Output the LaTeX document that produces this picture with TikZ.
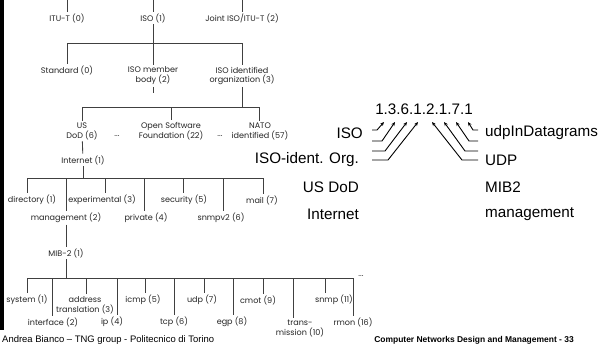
\documentclass[tikz,border=0pt]{standalone}
\usepackage{fontspec}
\setmainfont{Liberation Sans}
\newfontfamily\treefont{Poppins}
\usetikzlibrary{arrows.meta}
\definecolor{treegray}{HTML}{262626}
\definecolor{linegray}{HTML}{404040}
\begin{document}
\begin{tikzpicture}[x=1bp,y=-1bp,
  tl/.style={font=\treefont\fontsize{8.1}{10}\selectfont, text=treegray, inner xsep=0pt, inner ysep=1.6bp, align=center},
  tline/.style={draw=linegray, line width=0.85bp},
  big/.style={font=\fontsize{15.3}{18}\selectfont, inner sep=0pt},
  arr/.style={draw=black, line width=0.9bp, -{Stealth[length=4bp,width=3.4bp]}},
  foot/.style={font=\fontsize{9.5}{11}\selectfont, inner sep=0pt},
]
\useasboundingbox (0,0) rectangle (605,351);
\fill[white] (0,0) rectangle (605,351);
\fill[black] (0,0) rectangle (4,330);

% ---------- level 1
\node[tl] (itu) at (67,18) {ITU-T (0)};
\node[tl] (iso) at (153,18) {ISO (1)};
\node[tl] (joint) at (242,18) {Joint ISO/ITU-T (2)};
\coordinate (t0) at (67,0);
\coordinate (t1) at (153,0);
\coordinate (t2) at (242,0);
\draw[tline] (t0) -- (itu);
\draw[tline] (t1) -- (iso);
\draw[tline] (t2) -- (joint);

% ---------- level 2
\node[tl] (std) at (67,70) {Standard (0)};
\node[tl] (mem) at (153,76) {ISO member\\body (2)};
\node[tl] (org) at (242,76) {ISO identified\\organization (3)};
\coordinate (b1) at (153,43);
\draw[tline] (iso) -- (b1);
\draw[tline] (b1) -| (std);
\draw[tline] (b1) -- (mem);
\draw[tline] (b1) -| (org);
\draw[tline] (mem.south) -- ++(0,6);

% ---------- level 3
\node[tl] (usdod) at (82,131) {US\\DoD (6)};
\node[tl] (osf) at (171,131) {Open Software\\Foundation (22)};
\node[tl] (nato) at (260,131) {NATO\\identified (57)};
\node[tl] (dots1) at (117,136) {...};
\node[tl] (dots2) at (220,136) {...};
\coordinate (b2) at (242,107);
\draw[tline] (org) -- (b2);
\draw[tline] (b2) -| (usdod);
\draw[tline] (b2) -| (osf);
\draw[tline] (b2) -| ([xshift=-1bp]nato.north);

% ---------- internet
\node[tl] (inet) at (83,160) {Internet (1)};
\draw[tline] (usdod) -- (inet);
\coordinate (b3) at (83,178);
\draw[tline] (inet) -- (b3);

\node[tl] (dir) at (32,200) {directory (1)};
\node[tl] (mgmt) at (66,218) {management (2)};
\node[tl] (exp) at (102,200) {experimental (3)};
\node[tl] (priv) at (146,218) {private (4)};
\node[tl] (sec) at (184,200) {security (5)};
\node[tl] (snmpv) at (221,218) {snmpv2 (6)};
\node[tl] (mail) at (262,200) {mail (7)};
\draw[tline] (b3) -| ([xshift=-5bp]dir.north);
\draw[tline] (b3) -| (mgmt);
\draw[tline] (b3) -| ([xshift=3bp]exp.north);
\draw[tline] (b3) -| ([xshift=-2bp]priv.north);
\draw[tline] (b3) -| ([xshift=-1bp]sec.north);
\draw[tline] (b3) -| ([xshift=2bp]snmpv.north);
\draw[tline] (b3) -| ([xshift=1bp]mail.north);

% ---------- MIB-2
\node[tl] (mib) at (66,253) {MIB-2 (1)};
\draw[tline] (mgmt) -- (mib);
\coordinate (b4) at (66,278);
\draw[tline] (mib) -- (b4);

\node[tl] (sys) at (27,300) {system (1)};
\node[tl] (intf) at (53,322) {interface (2)};
\node[tl] (addr) at (85,305) {address\\translation (3)};
\node[tl] (ip) at (112,322) {ip (4)};
\node[tl] (icmp) at (143,300) {icmp (5)};
\node[tl] (tcp) at (174,322) {tcp (6)};
\node[tl] (udp) at (202,300) {udp (7)};
\node[tl] (egp) at (232,322) {egp (8)};
\node[tl] (cmot) at (258,300) {cmot (9)};
\node[tl] (trans) at (300,328) {trans-\\mission (10)};
\node[tl] (snmp) at (334,300) {snmp (11)};
\node[tl] (rmon) at (353,322) {rmon (16)};
\node[tl] (dots3) at (361,276) {...};
\coordinate (b4e) at (353,278);

\draw[tline] (b4) -| (sys);
\draw[tline] (b4) -| ([xshift=-1bp]intf.north);
\draw[tline] (b4) -| ([xshift=1bp]addr.north);
\draw[tline] (b4) -| ([xshift=5bp]ip.north);
\draw[tline] (b4) -| ([xshift=2bp]icmp.north);
\draw[tline] (b4) -| (tcp);
\draw[tline] (b4) -| ([xshift=2bp]udp.north);
\draw[tline] (b4) -| ([xshift=1bp]egp.north);
\draw[tline] (b4) -| ([xshift=5bp]cmot.north);
\draw[tline] (b4) -| ([xshift=-7bp]trans.north);
\draw[tline] (b4) -| ([xshift=-9bp]snmp.north);
\draw[tline] (b4) -- (b4e) -- (rmon);

% ---------- OID explanation
\node[big] (oid) at (424,109) {1.3.6.1.2.1.7.1};
\node[big, anchor=east] (lISO) at (363,133) {ISO};
\node[big, anchor=east] (lORG) at (359,160) {ISO-ident. Org.};
\node[big, anchor=east] (lDOD) at (359,187) {US DoD};
\node[big, anchor=east] (lINET) at (359,214) {Internet};
\node[big, anchor=west] (rUDPIN) at (485,133) {udpInDatagrams};
\node[big, anchor=west] (rUDP) at (485,160) {UDP};
\node[big, anchor=west] (rMIB) at (485,187) {MIB2};
\node[big, anchor=west] (rMGMT) at (485,214) {management};

\coordinate (d1) at (384,122);
\coordinate (d2) at (395,122);
\coordinate (d3) at (407,122);
\coordinate (d4) at (418,122);
\coordinate (d5) at (432,122);
\coordinate (d6) at (444,122);
\coordinate (d7) at (456,122);
\coordinate (d8) at (468,122);

\coordinate (a1) at (372,130);
\coordinate (a2) at (372,141);
\coordinate (a3) at (372,151);
\coordinate (a4) at (372,160);
\coordinate (c1) at (478,130);
\coordinate (c2) at (478,141);
\coordinate (c3) at (478,151);
\coordinate (c4) at (478,160);

\draw[arr] (a1) -- ++(5,0) -- (d1);
\draw[arr] (a2) -- ++(10,0) -- (d2);
\draw[arr] (a3) -- ++(13,0) -- (d3);
\draw[arr] (a4) -- ++(16,0) -- (d4);
\draw[arr] (c1) -- ++(-5,0) -- (d8);
\draw[arr] (c2) -- ++(-9,0) -- (d7);
\draw[arr] (c3) -- ++(-13,0) -- (d6);
\draw[arr] (c4) -- ++(-16,0) -- (d5);

% ---------- footer
\node[foot, anchor=west] (f1) at (2,340) {Andrea Bianco – TNG group - Politecnico di Torino};
\node[foot, anchor=east, font=\bfseries\fontsize{8.5}{10}\selectfont] (f2) at (574,340) {Computer Networks Design and Management - 33};
\end{tikzpicture}
\end{document}
